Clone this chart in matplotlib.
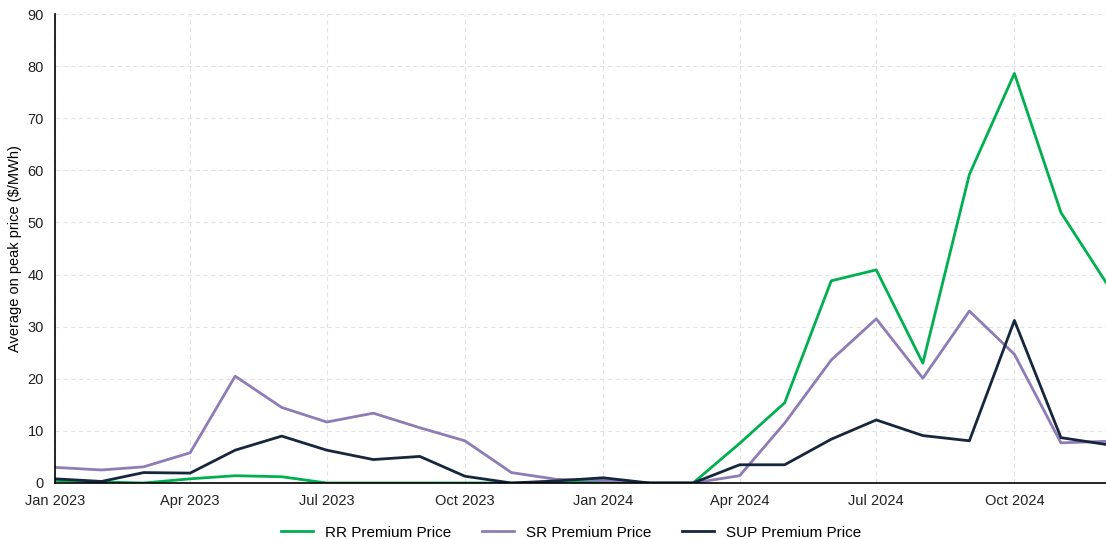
import matplotlib
matplotlib.use("Agg")
import matplotlib.pyplot as plt
import matplotlib.dates as mdates
import pandas as pd

plt.rcParams['font.family'] = ['Liberation Sans', 'DejaVu Sans']

months = pd.date_range("2023-01-01", "2024-12-01", freq="MS")

rr_price = [0.5, 0.2, 0.0, 0.8, 1.4, 1.2, 0.0, 0.0, 0.0, 0.0, 0.0, 0.0,
            0.3, 0.0, 0.0, 7.6, 15.4, 38.8, 40.9, 23.0, 59.2, 78.6, 51.9, 38.5]
sr_price = [3.0, 2.5, 3.1, 5.8, 20.5, 14.5, 11.7, 13.4, 10.6, 8.1, 2.0, 0.7,
            0.5, 0.0, 0.0, 1.4, 11.5, 23.6, 31.5, 20.1, 33.0, 24.7, 7.7, 8.0]
sup_price = [0.8, 0.3, 2.0, 1.9, 6.3, 9.0, 6.3, 4.5, 5.1, 1.3, 0.0, 0.4,
             1.0, 0.0, 0.0, 3.5, 3.5, 8.4, 12.1, 9.1, 8.1, 31.2, 8.7, 7.4]

fig = plt.figure(figsize=(11.06, 5.39), dpi=100)
ax = fig.add_axes([55 / 1106, 56 / 539, 1 - 55 / 1106, (483 - 14) / 539])

ax.plot(months, rr_price, color="#00B050", lw=2, label="RR Premium Price")
ax.plot(months, sr_price, color="#8E7CB6", lw=2, label="SR Premium Price")
ax.plot(months, sup_price, color="#16263D", lw=2, label="SUP Premium Price")

ax.set_xlim(months[0], months[-1])
ax.set_ylim(0, 90)
ax.set_yticks(range(0, 91, 10))
ax.set_xticks(months[::3])
ax.xaxis.set_major_formatter(mdates.DateFormatter("%b %Y"))
ax.tick_params(axis="both", length=0, labelsize=10.5, colors="#222222")
ax.tick_params(axis="x", pad=8)
ax.tick_params(axis="y", pad=8)

ax.grid(True, color="#E3E3E3", linestyle=(0, (4, 3)), linewidth=0.8)
ax.set_axisbelow(True)
for side in ["top", "right"]:
    ax.spines[side].set_visible(False)
ax.spines["left"].set_color("black")
ax.spines["bottom"].set_color("black")
ax.spines["left"].set_linewidth(1.2)
ax.spines["bottom"].set_linewidth(1.2)

ax.set_ylabel("Average on peak price (\\$/MWh)", fontsize=10.5, labelpad=4)

ax.legend(loc="center", bbox_to_anchor=(0.491, -0.106), ncol=3,
          frameon=False, fontsize=11, handlelength=2.1, columnspacing=2.0,
          handletextpad=0.8, borderpad=0.1)

fig.savefig("out.png", dpi=100)
